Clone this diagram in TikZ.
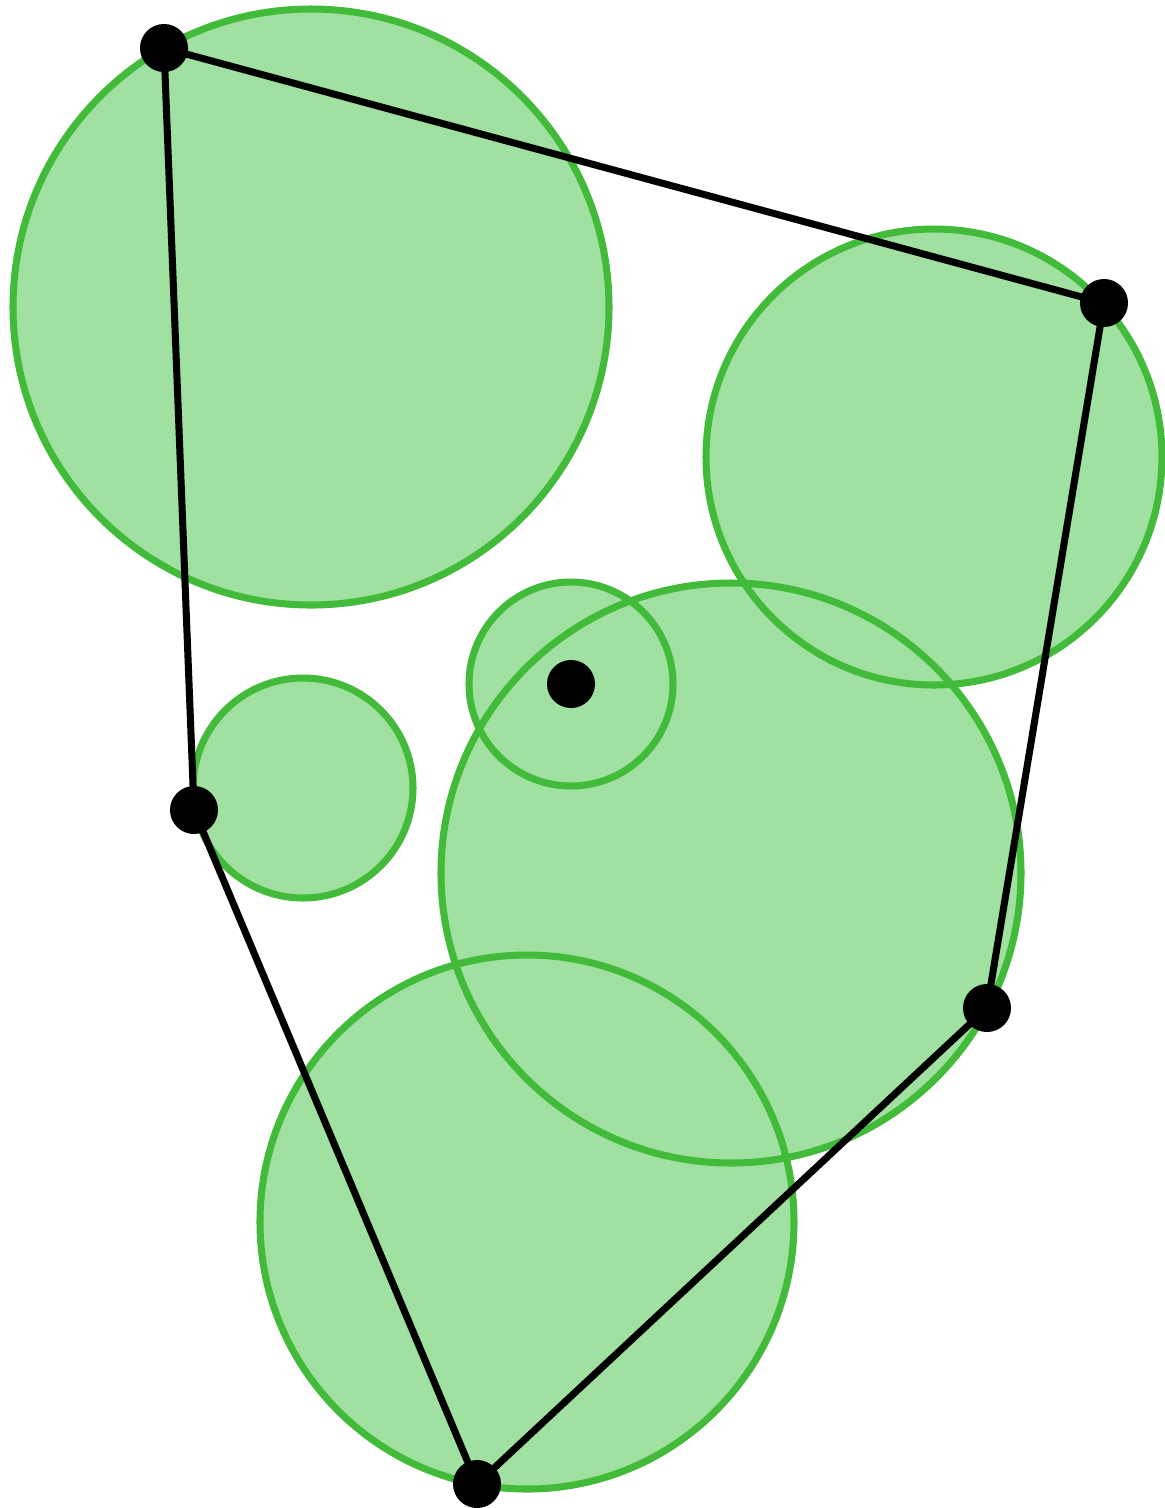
\documentclass[tikz,border=0pt]{standalone}
\usepackage{xcolor}
\definecolor{discfill}{RGB}{160,224,160}
\definecolor{discline}{RGB}{66,186,58}

\begin{document}
\begin{tikzpicture}[x=0.01cm,y=-0.01cm,
  hull/.style={black,line width=2pt},
  dot/.style={circle,fill=black,inner sep=0pt,minimum size=0.48cm}]
\useasboundingbox (0,0) rectangle (1165,1508);
% discs: fills first, then outlines on top
\foreach \cx/\cy/\r in {311/307/298, 934/457/228, 303/788/110, 571/684/102, 731/873/290, 527/1222/267} {
  \fill[discfill] (\cx,\cy) circle (\r*0.01cm); }
\foreach \cx/\cy/\r in {311/307/298, 934/457/228, 303/788/110, 571/684/102, 731/873/290, 527/1222/267} {
  \draw[discline,line width=2pt] (\cx,\cy) circle (\r*0.01cm); }
% hull vertices
\coordinate (pa) at (164,48); \coordinate (pb) at (1104,303); \coordinate (pc) at (987,1008);
\coordinate (pd) at (477,1484); \coordinate (pe) at (194,810); \coordinate (pm) at (571,684);
\draw[hull] (pa) -- (pb) -- (pc) -- (pd) -- (pe) -- cycle;
\foreach \p in {pa,pb,pc,pd,pe,pm} { \node[dot] at (\p) {}; }
\end{tikzpicture}
\end{document}
